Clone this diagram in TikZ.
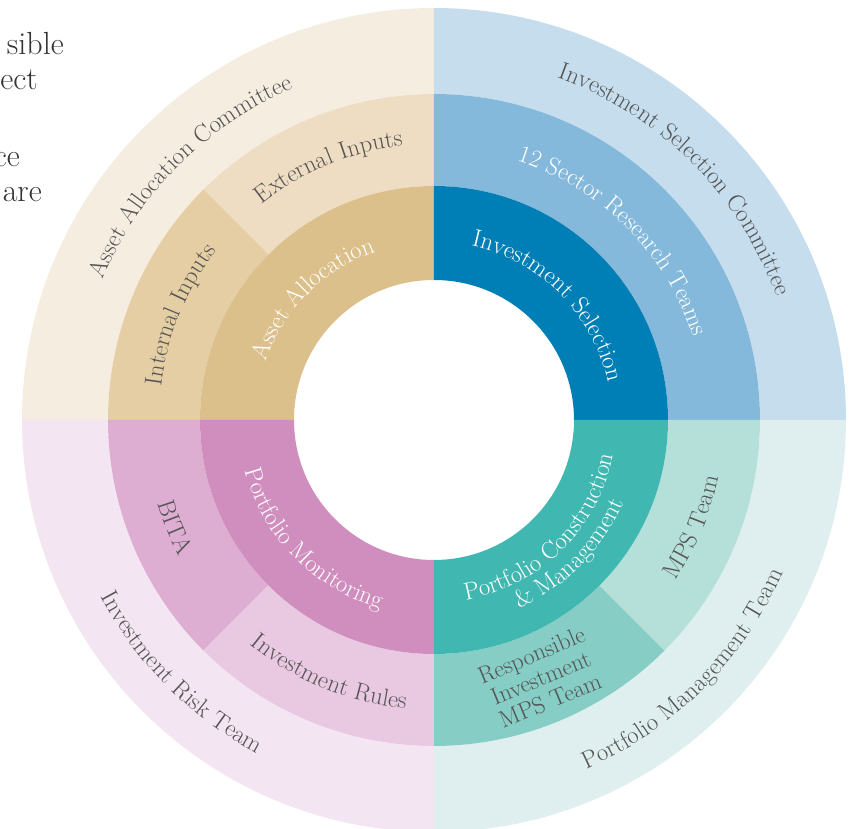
\documentclass[tikz,border=0pt]{standalone}
\usetikzlibrary{decorations.text}
\definecolor{aaOut}{HTML}{F5EDE0}
\definecolor{aaExt}{HTML}{EEDDC2}
\definecolor{aaInt}{HTML}{E5CEA3}
\definecolor{aaIn}{HTML}{DCC08B}
\definecolor{isOut}{HTML}{C6DDED}
\definecolor{isMid}{HTML}{84B9DC}
\definecolor{isIn}{HTML}{007FB6}
\definecolor{pcOut}{HTML}{DFEFEF}
\definecolor{pcMps}{HTML}{B5DFD9}
\definecolor{pcRes}{HTML}{86CDC5}
\definecolor{pcIn}{HTML}{40B7B1}
\definecolor{pmOut}{HTML}{F3E5F1}
\definecolor{pmBita}{HTML}{DDADD2}
\definecolor{pmRules}{HTML}{E9C8E1}
\definecolor{pmIn}{HTML}{D08EBE}
\definecolor{lblgray}{HTML}{555555}
\definecolor{bodygray}{HTML}{333333}
\newcommand\lblfont{\fontsize{24.5}{25}\selectfont}
% annular sector: colour, start angle, end angle, inner radius, outer radius
\newcommand\ringsector[5]{%
  \fill[#1] (#2:#4) arc[start angle=#2, end angle=#3, radius=#4]
    -- (#3:#5) arc[start angle=#3, end angle=#2, radius=#5] -- cycle;}
% text along a clockwise arc (tops outward): centre angle, baseline radius, colour, text
\newcommand\cwlabel[4]{%
  \path[decorate, decoration={text along path, text align=center, text color=#3,
      text={|\lblfont|#4}}]
    ({#1+60}:#2) arc[start angle={#1+60}, end angle={#1-60}, radius=#2];}
% text along a counter-clockwise arc (tops inward)
\newcommand\ccwlabel[4]{%
  \path[decorate, decoration={text along path, text align=center, text color=#3,
      text={|\lblfont|#4}}]
    ({#1-60}:#2) arc[start angle={#1-60}, end angle={#1+60}, radius=#2];}
\begin{document}
\begin{tikzpicture}[x=1pt,y=1pt,
  bodytext/.style={font=\fontsize{32}{35}\selectfont, text=bodygray, inner sep=0pt, anchor=base east},
  ringtext/.style={font=\fontsize{24}{24.5}\selectfont, text=lblgray, align=center, inner sep=0pt}]
\useasboundingbox (-434,-409) rectangle (418,420);
% rings
\def\rA{140}\def\rB{234}\def\rC{326}\def\rD{412}
% top-left: asset allocation
\ringsector{aaOut}{90}{180}{\rC}{\rD}
\ringsector{aaExt}{90}{135}{\rB}{\rC}
\ringsector{aaInt}{135}{180}{\rB}{\rC}
\ringsector{aaIn}{90}{180}{\rA}{\rB}
% top-right: investment selection
\ringsector{isOut}{0}{90}{\rC}{\rD}
\ringsector{isMid}{0}{90}{\rB}{\rC}
\ringsector{isIn}{0}{90}{\rA}{\rB}
% bottom-right: portfolio construction
\ringsector{pcOut}{270}{360}{\rC}{\rD}
\ringsector{pcRes}{270}{315}{\rB}{\rC}
\ringsector{pcMps}{315}{360}{\rB}{\rC}
\ringsector{pcIn}{270}{360}{\rA}{\rB}
% bottom-left: portfolio monitoring
\ringsector{pmOut}{180}{270}{\rC}{\rD}
\ringsector{pmBita}{180}{225}{\rB}{\rC}
\ringsector{pmRules}{225}{270}{\rB}{\rC}
\ringsector{pmIn}{180}{270}{\rA}{\rB}
% outer ring labels
\cwlabel{135}{360}{lblgray}{Asset Allocation Committee}
\cwlabel{45}{364}{lblgray}{Investment Selection Committee}
\ccwlabel{225}{377}{lblgray}{Investment Risk Team}
\ccwlabel{315}{381}{lblgray}{Portfolio Management Team}
% middle ring labels
\cwlabel{112.5}{276}{lblgray}{External Inputs}
\cwlabel{157.5}{275}{lblgray}{Internal Inputs}
\cwlabel{45}{272}{white}{12 Sector Research Teams}
\ccwlabel{337.5}{290}{lblgray}{MPS Team}
\ccwlabel{202.5}{289}{lblgray}{BITA}
\ccwlabel{247.5}{290}{lblgray}{Investment Rules}
\node[ringtext, rotate=22.5] (respinv) at (292.5:279) {Responsible\\Investment\\MPS Team};
% inner ring labels
\cwlabel{135}{178}{white}{Asset Allocation}
\cwlabel{45}{178}{white}{Investment Selection}
\ccwlabel{314.5}{183}{white}{Portfolio Construction}
\ccwlabel{315.5}{207}{white}{{\&} Management}
\ccwlabel{224.5}{196}{white}{Portfolio Monitoring}
% cut-off body text at the left edge
\node[bodytext] (t1) at (-370,365) {sible};
\node[bodytext] (t2) at (-396,330) {ect};
\node[bodytext] (t3) at (-414,253) {ce};
\node[bodytext] (t4) at (-392,218) {are};
\end{tikzpicture}
\end{document}
